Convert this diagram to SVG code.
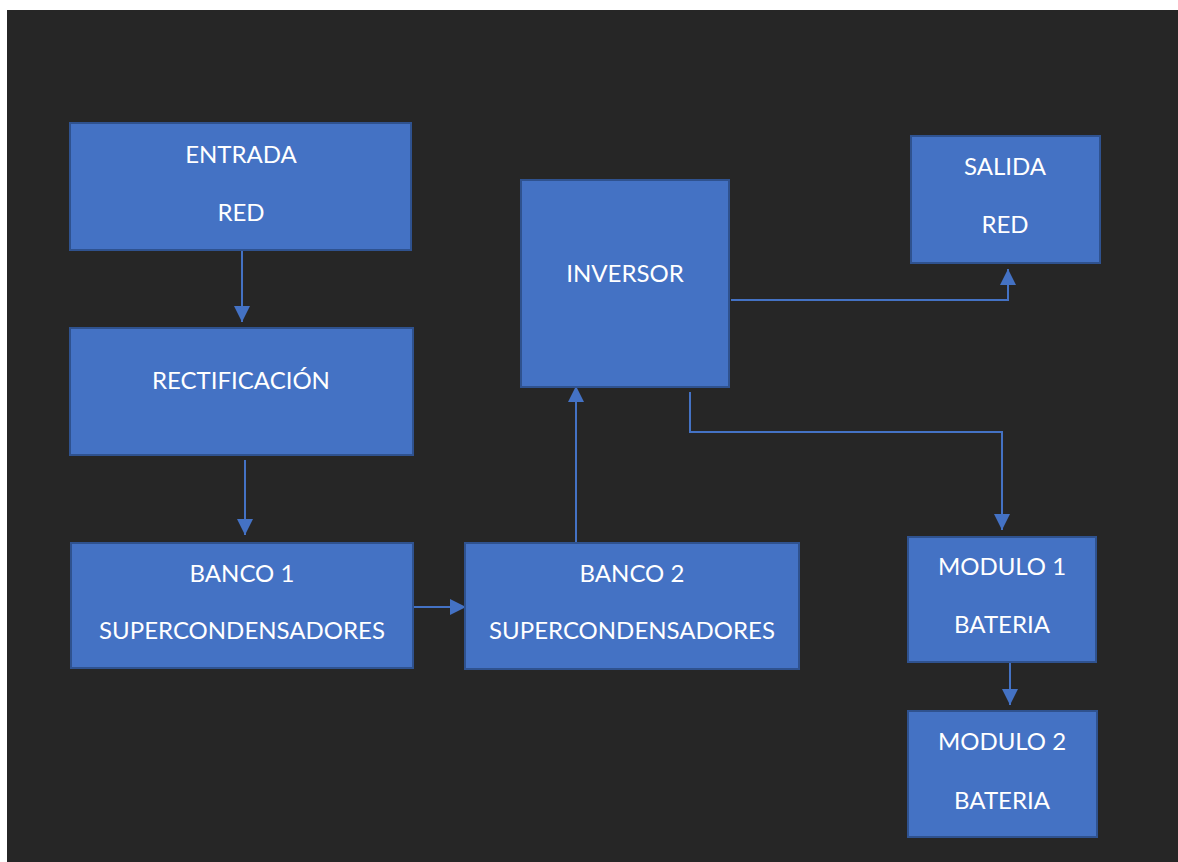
<svg xmlns="http://www.w3.org/2000/svg" width="1178" height="862" viewBox="0 0 1178 862">
<style>
.box{fill:#4472C4;stroke:#2F528F;stroke-width:2}
.t{font-family:Lato,"Open Sans","Liberation Sans",sans-serif;font-size:24px;fill:#FFFFFF;text-anchor:middle}
.c{fill:none;stroke:#4472C4;stroke-width:2}
</style>
<defs>
<marker id="ah" viewBox="0 0 10 10" refX="10" refY="5" markerWidth="8" markerHeight="8" orient="auto" markerUnits="strokeWidth">
<path d="M0,0 L10,5 L0,10 z" fill="#4472C4"/>
</marker>
</defs>
<rect x="0" y="0" width="1178" height="862" fill="#FFFFFF"/>
<rect x="7" y="10" width="1171" height="852" fill="#262626"/>
<g id="connectors">
<line class="c" x1="242" y1="251" x2="242" y2="322" marker-end="url(#ah)"/>
<line class="c" x1="245" y1="460" x2="245" y2="535" marker-end="url(#ah)"/>
<line class="c" x1="414" y1="607" x2="466" y2="607" marker-end="url(#ah)"/>
<line class="c" x1="576" y1="542" x2="576" y2="386" marker-end="url(#ah)"/>
<polyline class="c" points="731,300 1008,300 1008,269" marker-end="url(#ah)"/>
<polyline class="c" points="690,392 690,432 1002,432 1002,530" marker-end="url(#ah)"/>
<line class="c" x1="1010" y1="663" x2="1010" y2="705" marker-end="url(#ah)"/>
</g>
<g id="entrada">
<rect class="box" x="70" y="123" width="341" height="127"/>
<text class="t" x="241" y="163">ENTRADA</text>
<text class="t" x="241" y="221">RED</text>
</g>
<g id="rectificacion">
<rect class="box" x="70" y="328" width="343" height="127"/>
<text class="t" x="241" y="389">RECTIFICACIÓN</text>
</g>
<g id="banco1">
<rect class="box" x="71" y="543" width="342" height="125"/>
<text class="t" x="242" y="582">BANCO 1</text>
<text class="t" x="242" y="639">SUPERCONDENSADORES</text>
</g>
<g id="banco2">
<rect class="box" x="465" y="543" width="334" height="126"/>
<text class="t" x="632" y="582">BANCO 2</text>
<text class="t" x="632" y="639">SUPERCONDENSADORES</text>
</g>
<g id="inversor">
<rect class="box" x="521" y="180" width="208" height="207"/>
<text class="t" x="625" y="282">INVERSOR</text>
</g>
<g id="salida">
<rect class="box" x="911" y="136" width="189" height="127"/>
<text class="t" x="1005" y="175">SALIDA</text>
<text class="t" x="1005" y="233">RED</text>
</g>
<g id="modulo1">
<rect class="box" x="908" y="537" width="188" height="125"/>
<text class="t" x="1002" y="575">MODULO 1</text>
<text class="t" x="1002" y="633">BATERIA</text>
</g>
<g id="modulo2">
<rect class="box" x="908" y="711" width="189" height="126"/>
<text class="t" x="1002" y="750">MODULO 2</text>
<text class="t" x="1002" y="809">BATERIA</text>
</g>
</svg>
